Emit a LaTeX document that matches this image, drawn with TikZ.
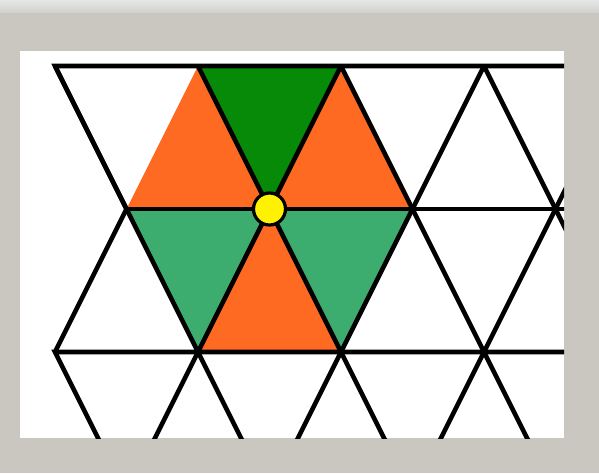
\documentclass[tikz,border=0pt]{standalone}
\usepackage{tikz}
\usetikzlibrary{calc}

\definecolor{frame}{HTML}{C9C7BF}
\definecolor{bandtop}{HTML}{E6E6E6}
\definecolor{bandlow}{HTML}{D2D2D0}
\definecolor{cellorange}{HTML}{FF6A22}
\definecolor{celldark}{HTML}{078A07}
\definecolor{cellgreen}{HTML}{3DAD6F}

\tikzset{
  edge/.style={line width=2.3pt, black},
  rim/.style={edge, line join=miter},
  hubdot/.style={circle, draw=black, line width=1.6pt, fill=yellow,
                 minimum size=16pt, inner sep=0pt}
}

\begin{document}
\begin{tikzpicture}[x=0.5pt, y=-0.5pt]
\useasboundingbox (0,0) rectangle (599,473);

% --- frame and paper ---
\fill[frame] (0,0) rectangle (599,473);
\shade[top color=bandtop, bottom color=bandlow] (0,0) rectangle (599,12);
\fill[white] (20,51) rectangle (564,438);

% --- hexagon corners ---
\coordinate (c)  at (269.5,209);
\coordinate (tl) at (198,66);
\coordinate (tr) at (341,66);
\coordinate (l)  at (126.5,209);
\coordinate (r)  at (412.5,209);
\coordinate (bl) at (198,352);
\coordinate (br) at (341,352);

\begin{scope}
    \clip (20,51) rectangle (564,438);

    % coloured cells
    \fill[celldark]   (tl) -- (tr) -- (c) -- cycle;
    \fill[cellorange] (l) -- (tl) -- (c) -- cycle;
    \fill[cellorange] (c) -- (tr) -- (r) -- cycle;
    \fill[cellgreen]  (l) -- (c) -- (bl) -- cycle;
    \fill[cellorange] (c) -- (bl) -- (br) -- cycle;
    \fill[cellgreen]  (c) -- (r) -- (br) -- cycle;

    % outer rim (left zigzag)
    \draw[rim] (600,66) -- (55,66) -- (l) -- (55,352);
    \draw[rim] (600,352) -- (55,352) -- (126.5,495);

    % middle row
    \draw[edge] (l) -- (600,209);

    % slanted lines
    \foreach \j in {0,...,4}
        \draw[edge] ({55+143*\j},66) -- ++(214.5,429);     % down-right
    \foreach \j in {2,...,4}
        \draw[edge] ({55+143*\j},66) -- ++(-214.5,429);    % down-left
\end{scope}

% --- marked vertex ---
\node[hubdot] (hub) at (c) {};

\end{tikzpicture}
\end{document}
